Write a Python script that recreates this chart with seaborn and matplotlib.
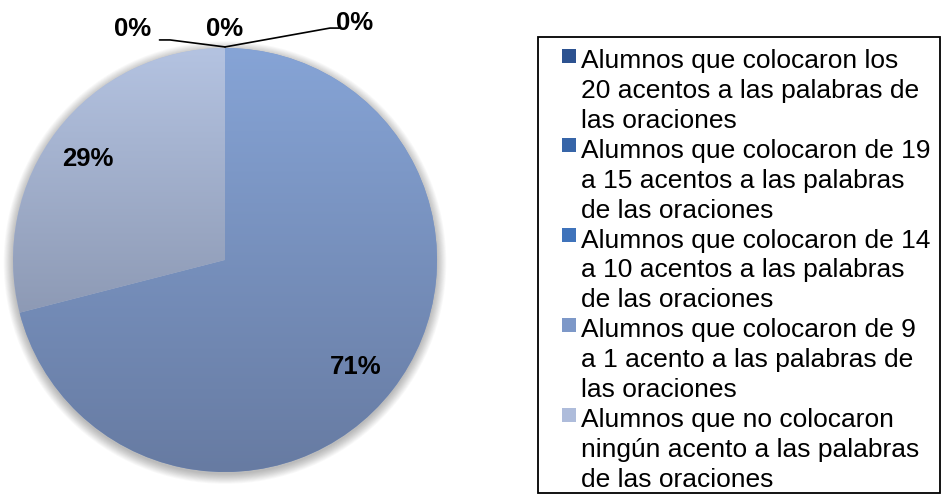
import numpy as np
import matplotlib
matplotlib.use("Agg")
import matplotlib.pyplot as plt
import matplotlib.patches as mpatches
from matplotlib.legend_handler import HandlerPatch
import seaborn as sns

# datos del grafico
categorias = [
    "Alumnos que colocaron los\n20 acentos a las palabras de\nlas oraciones",
    "Alumnos que colocaron de 19\na 15 acentos a las palabras\nde las oraciones",
    "Alumnos que colocaron de 14\na 10 acentos a las palabras\nde las oraciones",
    "Alumnos que colocaron de 9\na 1 acento a las palabras de\nlas oraciones",
    "Alumnos que no colocaron\nningún acento a las palabras\nde las oraciones",
]
porcentajes = [0, 0, 0, 71, 29]
colores = ["#2c5290", "#3765a8", "#3f73bb", "#7d98c8", "#aebcdb"]
# degradado vertical (arriba, abajo) para las porciones visibles
degradados = {3: ("#86a4d6", "#677ba2"), 4: ("#b4c3e1", "#76819a")}

sns.set_theme(style="white")
plt.rcParams["font.family"] = ["Liberation Sans", "DejaVu Sans"]
plt.rcParams["text.color"] = "black"

fig = plt.figure(figsize=(9.42, 4.96), dpi=100)
ax = fig.add_axes([13 / 942, 24 / 496, 424 / 942, 424 / 496])

# sombra suave
for k in range(12):
    ax.add_patch(mpatches.Circle((0, -0.012), 1.0 + k * 0.004, color="black",
                                 alpha=0.025, lw=0, zorder=0, clip_on=False))

wedges, _ = ax.pie(porcentajes, colors=colores, startangle=90, counterclock=False,
                   radius=1, wedgeprops=dict(linewidth=0, zorder=1))

for i, (top, bot) in degradados.items():
    c1 = np.array(matplotlib.colors.to_rgb(top))
    c2 = np.array(matplotlib.colors.to_rgb(bot))
    t = np.linspace(0, 1, 256)[:, None]
    img = (c2 * (1 - t) + c1 * t)[:, None, :]
    im = ax.imshow(img, extent=(-1, 1, -1, 1), origin="lower", aspect="auto",
                   interpolation="bilinear", zorder=2)
    im.set_clip_path(wedges[i])

ax.set_xlim(-1, 1)
ax.set_ylim(-1, 1)
ax.set_aspect("equal")
ax.axis("off")

# etiquetas de porcentaje
fs_lab = 18.5
pos_cero = [(-0.434, 1.09), (0.0, 1.09), (0.613, 1.12)]
j = 0
for i, (w, v) in enumerate(zip(wedges, porcentajes)):
    ang = np.deg2rad((w.theta1 + w.theta2) / 2)
    if v > 0:
        ax.text(0.8 * np.cos(ang) - 0.015, 0.8 * np.sin(ang) - 0.015, f"{v}%",
                ha="center", va="center", fontsize=fs_lab, fontweight="bold",
                color="black")
    else:
        x, y = pos_cero[j]
        ax.text(x, y, f"{v}%", ha="center", va="center", fontsize=fs_lab,
                fontweight="bold", color="black", clip_on=False)
        px, py = np.cos(ang), np.sin(ang)
        if j == 0:
            ax.plot([x + 0.125, x + 0.175, px], [y - 0.052, y - 0.052, py + 0.005],
                    color="black", lw=1.2, clip_on=False)
        elif j == 2:
            ax.plot([px, x - 0.118, x - 0.075], [py + 0.005, y - 0.026, y - 0.026],
                    color="black", lw=1.2, clip_on=False)
        j += 1

fs_leg = 19


def cuadro_arriba(legend, orig_handle, xdescent, ydescent, width, height, fontsize):
    s = 14 / (100 / 72)
    return mpatches.Rectangle((-xdescent + width - s, -ydescent + height - s + 0.72 * fontsize), s, s)


leg = fig.legend(wedges, categorias, loc="upper left",
                 bbox_to_anchor=(538 / 942, 1 - 37 / 496), borderaxespad=0,
                 fontsize=fs_leg, frameon=False,
                 handlelength=0.99, handleheight=2.5, handletextpad=0.2,
                 labelspacing=0.23, borderpad=0.45,
                 handler_map={mpatches.Wedge: HandlerPatch(patch_func=cuadro_arriba)})
for t in leg.get_texts():
    t.set_linespacing(1.31)
    t.set_color("black")

# marco de la leyenda
fig.patches.append(mpatches.Rectangle((538 / 942, 3 / 496), 402 / 942, 456 / 496,
                                      transform=fig.transFigure, fill=False,
                                      edgecolor="black", linewidth=1.3))

fig.savefig("out.png", dpi=100)
